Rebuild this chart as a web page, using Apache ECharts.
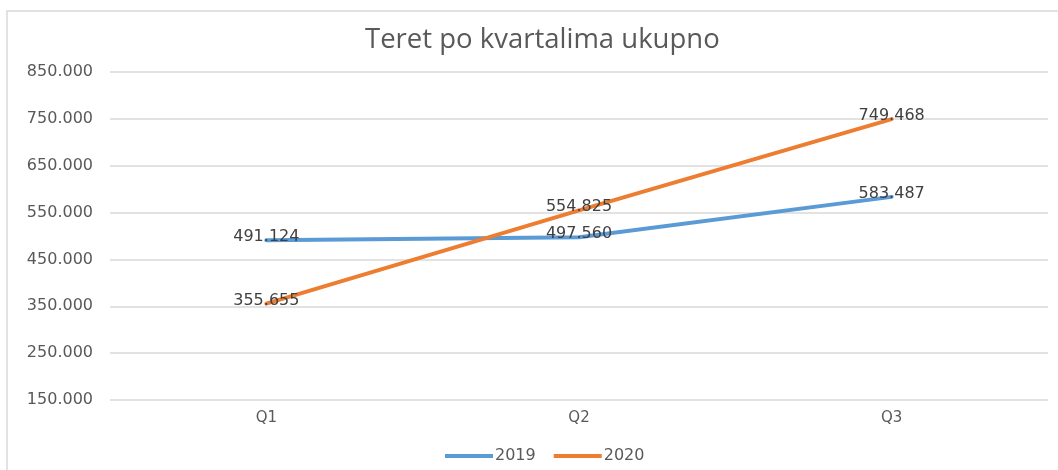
<!DOCTYPE html>
<html>
<head>
<meta charset="utf-8">
<script src="https://cdn.jsdelivr.net/npm/echarts@6/dist/echarts.min.js"></script>
<style>html,body{margin:0;padding:0;background:#fff}#c{width:1058px;height:470px}</style>
</head>
<body>
<div id="c"></div>
<script>
const categories = ['Q1', 'Q2', 'Q3'];
const series2019 = [491124, 497560, 583487];
const series2020 = [355655, 554825, 749468];
const seriesNames = ['2019', '2020'];
const yTicks = { min: 150000, max: 850000, interval: 100000 };

function fmt(v) {
  return String(Math.round(v)).replace(/\B(?=(\d{3})+(?!\d))/g, '.');
}

const chart = echarts.init(document.getElementById('c'), null, { renderer: 'canvas' });
const labelStyle = {
  show: true,
  position: 'inside',
  offset: [0, -3],
  fontFamily: 'DejaVu Sans',
  fontSize: 16,
  color: '#404040',
  formatter: p => fmt(p.value)
};
chart.setOption({
  animation: false,
  backgroundColor: '#fff',
  graphic: [{
    type: 'rect',
    shape: { x: 7, y: 11, width: 1070, height: 480 },
    style: { fill: 'none', stroke: '#d9d9d9', lineWidth: 1.5 },
    silent: true,
    z: -1
  }],
  title: {
    text: 'Teret po kvartalima ukupno',
    left: 360,
    top: 21,
    textStyle: { fontFamily: 'Open Sans', fontSize: 27.5, fontWeight: 'normal', color: '#595959' }
  },
  legend: {
    data: seriesNames,
    left: 440,
    top: 443,
    icon: 'rect',
    itemWidth: 48,
    itemHeight: 4,
    itemGap: 18,
    textStyle: { fontFamily: 'DejaVu Sans', fontSize: 16, color: '#595959', padding: [0, 0, 0, -3] }
  },
  grid: { left: 110, right: 10, top: 72, bottom: 70, containLabel: false },
  xAxis: {
    type: 'category',
    data: categories,
    boundaryGap: true,
    axisLine: { show: false },
    axisTick: { show: false },
    axisLabel: { margin: 11, fontFamily: 'DejaVu Sans', fontSize: 15, color: '#595959' }
  },
  yAxis: {
    type: 'value',
    min: yTicks.min,
    max: yTicks.max,
    interval: yTicks.interval,
    axisLine: { show: false },
    axisTick: { show: false },
    axisLabel: { margin: 17, fontFamily: 'DejaVu Sans', fontSize: 16, color: '#595959', formatter: v => fmt(v) },
    splitLine: { lineStyle: { color: '#d9d9d9', width: 1.5 } }
  },
  series: [
    {
      name: seriesNames[0], type: 'line', data: series2019,
      showSymbol: true, symbol: 'circle', symbolSize: 1,
      lineStyle: { color: '#5B9BD5', width: 4, cap: 'round' },
      itemStyle: { color: '#5B9BD5' },
      label: labelStyle
    },
    {
      name: seriesNames[1], type: 'line', data: series2020,
      showSymbol: true, symbol: 'circle', symbolSize: 1,
      lineStyle: { color: '#ED7D31', width: 4, cap: 'round' },
      itemStyle: { color: '#ED7D31' },
      label: labelStyle
    }
  ]
});
</script>
</body>
</html>
